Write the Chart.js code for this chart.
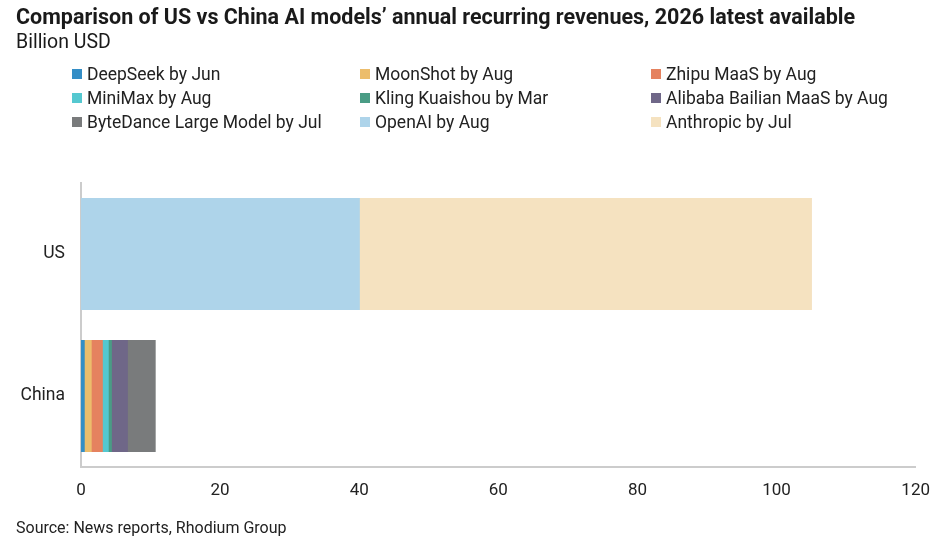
<!DOCTYPE html>
<html>
<head>
<meta charset="utf-8">
<script src="https://cdn.jsdelivr.net/npm/chart.js@4.4.0/dist/chart.umd.min.js"></script>
<style>
  html, body { margin: 0; padding: 0; background: #fff; }
  body { width: 944px; height: 548px; position: relative; overflow: hidden; font-family: Roboto, "Noto Sans", sans-serif; color: #1a1a1a; }
  #title { position: absolute; left: 16px; top: 4px; font-size: 21.5px; font-weight: bold; white-space: nowrap; }
  #subtitle { position: absolute; left: 16px; top: 30px; font-size: 19.5px; }
  #legend { position: absolute; left: 72px; top: 63px; display: grid; grid-template-columns: 288px 291px 280px; row-gap: 2px; }
  .item { display: flex; align-items: center; height: 22px; font-size: 17.5px; color: #222; white-space: nowrap; }
  .box { width: 10px; height: 10px; margin-right: 5px; flex: none; }
  #source { position: absolute; left: 16px; top: 518px; font-size: 16px; color: #222; }
  #wrap { position: absolute; left: 0; top: 0; width: 944px; height: 548px; }
</style>
</head>
<body>
<div id="wrap"><canvas id="chart"></canvas></div>
<div id="title">Comparison of US vs China AI models’ annual recurring revenues, 2026 latest available</div>
<div id="subtitle">Billion USD</div>
<div id="legend"></div>
<div id="source">Source: News reports, Rhodium Group</div>
<script>
// categories (rows of the chart)
const regions = ['US', 'China'];

// series: [US, China] in billion USD (null = not applicable)
const seriesNames = [
  'DeepSeek by Jun', 'MoonShot by Aug', 'Zhipu MaaS by Aug',
  'MiniMax by Aug', 'Kling Kuaishou by Mar', 'Alibaba Bailian MaaS by Aug',
  'ByteDance Large Model by Jul', 'OpenAI by Aug', 'Anthropic by Jul'
];
const deepseek  = [null, 0.45];
const moonshot  = [null, 1.0];
const zhipu     = [null, 1.6];
const minimax   = [null, 0.85];
const kling     = [null, 0.45];
const alibaba   = [null, 2.3];
const bytedance = [null, 4.0];
const openai    = [40, null];
const anthropic = [65, null];

const xTicks = [0, 20, 40, 60, 80, 100, 120];

const colors = ['#348ec6', '#ecbd6c', '#e5825f', '#55c8d0', '#4a9c85',
                '#6f6788', '#797b7c', '#aed4ea', '#f5e2c0'];

const values = [deepseek, moonshot, zhipu, minimax, kling, alibaba, bytedance, openai, anthropic];

const datasets = seriesNames.map((name, i) => ({
  label: name,
  data: values[i],
  backgroundColor: colors[i],
  borderWidth: 0,
  inflateAmount: 0.6,
  categoryPercentage: 1,
  barPercentage: 0.78
}));

const chart = new Chart(document.getElementById('chart'), {
  type: 'bar',
  data: { labels: regions, datasets },
  options: {
    indexAxis: 'y',
    responsive: true,
    maintainAspectRatio: false,
    animation: false,
    layout: { padding: { top: 183, right: 28, bottom: 0, left: 0 } },
    plugins: { legend: { display: false }, tooltip: { enabled: false } },
    scales: {
      x: {
        stacked: true,
        min: 0, max: 120,
        afterBuildTicks: s => { s.ticks = xTicks.map(v => ({ value: v })); },
        grid: { display: false, drawTicks: false },
        border: { color: '#cccccc', width: 2 },
        ticks: { padding: 14, color: '#222', font: { family: 'Roboto', size: 17 } },
        afterFit: s => { s.height = 81; }
      },
      y: {
        stacked: true,
        grid: { display: false, drawTicks: false },
        border: { color: '#cccccc', width: 2 },
        ticks: { padding: 16, color: '#222', font: { family: 'Roboto', size: 17.5 } },
        afterFit: s => { s.width = 81; }
      }
    }
  }
});

// HTML legend, 3 columns
const legend = document.getElementById('legend');
chart.data.datasets.forEach(ds => {
  const item = document.createElement('div');
  item.className = 'item';
  const box = document.createElement('span');
  box.className = 'box';
  box.style.background = ds.backgroundColor;
  item.appendChild(box);
  item.appendChild(document.createTextNode(ds.label));
  legend.appendChild(item);
});
</script>
</body>
</html>
